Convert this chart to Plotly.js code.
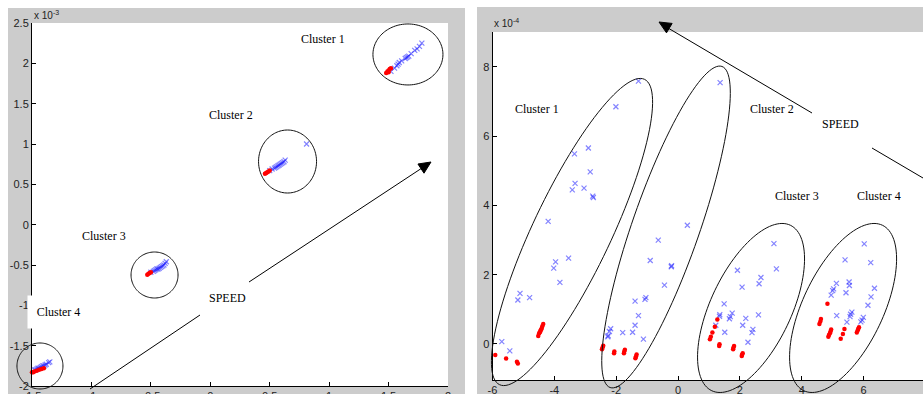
<!DOCTYPE html>
<html><head><meta charset="utf-8">
<script src="https://cdn.plot.ly/plotly-3.0.1.min.js"></script>
<style>html,body{margin:0;padding:0;background:#fff}#chart{width:923px;height:394px}</style>
</head><body><div id="chart"></div>
<script>
// ---------- tick labels ----------
const leftXTicks = [-1.5,-1,-0.5,0,0.5,1,1.5,2];
const leftXTickText = ['-1.5','-1','-0.5','0','0.5','1','1.5','2'];
const leftYTicks = [-2,-1.5,-1,-0.5,0,0.5,1,1.5,2,2.5];
const leftYTickText = ['-2','-1.5','-1','-0.5','0','0.5','1','1.5','2','2.5'];
const rightXTicks = [-6,-4,-2,0,2,4,6];
const rightXTickText = ['-6','-4','-2','0','2','4','6'];
const rightYTicks = [0,2,4,6,8];
const rightYTickText = ['0','2','4','6','8'];

// ---------- left panel data (x 10^-3) ----------
const leftC1BlueX = [1.52,1.55,1.57,1.58,1.59,1.61,1.64,1.65,1.66,1.67,1.69,1.72,1.74,1.76,1.78];
const leftC1BlueY = [1.90,1.94,1.97,1.99,2.01,2.03,2.06,2.07,2.08,2.09,2.12,2.16,2.18,2.21,2.25];
const leftC1RedX = [1.48,1.49,1.50,1.51,1.52,1.50];
const leftC1RedY = [1.88,1.90,1.91,1.93,1.94,1.89];
const leftC2BlueX = [0.50,0.52,0.54,0.55,0.56,0.57,0.58,0.59,0.60,0.61,0.62,0.63,0.81];
const leftC2BlueY = [0.67,0.69,0.70,0.71,0.72,0.73,0.74,0.75,0.76,0.77,0.78,0.80,1.00];
const leftC2RedX = [0.46,0.47,0.48,0.49,0.50];
const leftC2RedY = [0.63,0.64,0.65,0.66,0.67];
const leftC3BlueX = [-0.50,-0.48,-0.47,-0.46,-0.45,-0.44,-0.43,-0.42,-0.41,-0.40,-0.39,-0.38,-0.37];
const leftC3BlueY = [-0.59,-0.58,-0.57,-0.56,-0.55,-0.55,-0.54,-0.53,-0.52,-0.51,-0.50,-0.48,-0.46];
const leftC3RedX = [-0.53,-0.52,-0.51,-0.50];
const leftC3RedY = [-0.62,-0.61,-0.60,-0.59];
const leftC4BlueX = [-1.48,-1.47,-1.46,-1.45,-1.44,-1.43,-1.42,-1.41,-1.40,-1.39,-1.38,-1.36,-1.35];
const leftC4BlueY = [-1.80,-1.80,-1.79,-1.78,-1.78,-1.77,-1.76,-1.75,-1.75,-1.74,-1.73,-1.71,-1.70];
const leftC4RedX = [-1.50,-1.49,-1.48,-1.46,-1.44,-1.42,-1.40];
const leftC4RedY = [-1.83,-1.83,-1.82,-1.81,-1.80,-1.79,-1.78];

// ---------- right panel data (x 10^-4) ----------
const rightC1BlueX = [-2.01,-1.28,-3.35,-2.90,-2.84,-3.33,-3.42,-3.04,-2.76,-2.74,-4.20,-3.54,-3.96,-4.02,-3.82,-5.11,-5.18,-4.80,-5.70,-5.44];
const rightC1BlueY = [6.85,7.59,5.49,5.66,4.97,4.64,4.45,4.50,4.27,4.23,3.54,2.48,2.37,2.19,1.78,1.46,1.27,1.34,0.07,-0.20];
const rightC1RedX = [-5.91,-5.56,-5.21,-5.18,-4.36,-4.39,-4.41,-4.43,-4.45,-4.47,-4.49,-4.52];
const rightC1RedY = [-0.32,-0.42,-0.51,-0.56,0.58,0.51,0.45,0.41,0.38,0.34,0.31,0.23];
const rightC2BlueX = [1.36,0.30,-0.64,-0.90,-0.22,-0.21,-0.44,-1.04,-1.07,-1.39,-1.28,-1.39,-1.79,-1.47,-1.12,-2.18,-2.22,-2.27,-2.26];
const rightC2BlueY = [7.55,3.43,3.00,2.41,2.23,2.26,1.70,1.34,1.29,1.24,0.82,0.54,0.33,0.34,0.14,0.44,0.36,0.21,0.24];
const rightC2RedX = [-2.42,-2.44,-2.46,-2.06,-2.07,-1.72,-1.74,-1.75,-1.34,-1.36,-1.38];
const rightC2RedY = [-0.05,-0.10,-0.15,-0.22,-0.27,-0.17,-0.22,-0.27,-0.30,-0.36,-0.41];
const rightC3BlueX = [3.10,3.18,1.92,2.68,2.62,2.07,1.49,1.35,1.75,1.69,1.66,2.19,2.60,2.09,1.22,2.42,2.39,1.51,2.26,1.34];
const rightC3BlueY = [2.90,2.17,2.13,1.92,1.74,1.64,1.16,0.85,0.89,0.79,0.73,0.74,0.84,0.54,0.54,0.42,0.33,0.34,0.05,0.80];
const rightC3RedX = [1.27,1.19,1.11,1.06,1.03,1.34,1.33,1.81,1.79,1.78,2.09,2.07,2.06];
const rightC3RedY = [0.71,0.50,0.33,0.21,0.14,-0.01,-0.06,-0.06,-0.11,-0.15,-0.27,-0.31,-0.35];
const rightC4BlueX = [6.02,5.40,6.23,5.12,5.53,5.54,5.03,5.00,5.43,4.95,6.35,6.24,6.14,5.13,5.62,5.58,5.56,5.99,5.95,5.46,5.91];
const rightC4BlueY = [2.89,2.43,2.35,1.75,1.79,1.69,1.59,1.54,1.48,1.41,1.61,1.36,1.12,0.82,0.92,0.86,0.79,0.77,0.69,0.63,0.64];
const rightC4RedX = [4.83,4.62,4.60,4.57,4.95,4.93,4.91,4.88,4.86,5.38,5.33,5.26,5.85,5.83,5.81,5.78];
const rightC4RedY = [1.16,0.72,0.65,0.58,0.42,0.36,0.31,0.26,0.21,0.43,0.29,0.15,0.48,0.44,0.40,0.33];

// ---------- figure ----------
const W = 923, H = 394;
const tickFont = {family:'Liberation Sans Narrow, Liberation Sans, Arial, sans-serif', size:11, color:'#222'};
const axCommon = {showline:true, linecolor:'#000', linewidth:1, ticks:'inside', ticklen:4, tickwidth:1,
  tickcolor:'#000', showgrid:false, zeroline:false, fixedrange:true, mirror:false, tickfont:tickFont, layer:'above traces'};

const layout = {
  width:W, height:H, margin:{l:0,r:0,t:0,b:0,pad:0},
  paper_bgcolor:'#ffffff', plot_bgcolor:'rgba(0,0,0,0)', showlegend:false,
  xaxis: Object.assign({}, axCommon, {domain:[32/W, 448/W], range:[-1.5, 2], anchor:'y', tickvals:leftXTicks, ticktext:leftXTickText}),
  yaxis: Object.assign({}, axCommon, {domain:[1-386/H, 1-23/H], range:[-2, 2.5], anchor:'x', tickvals:leftYTicks, ticktext:leftYTickText}),
  xaxis2: Object.assign({}, axCommon, {domain:[492.5/W, 1], range:[-6, 7.92], anchor:'y2', tickvals:rightXTicks, ticktext:rightXTickText}),
  yaxis2: Object.assign({}, axCommon, {domain:[1-380/H, 1-32/H], range:[-1.04, 9.01], anchor:'x2', tickvals:rightYTicks, ticktext:rightYTickText}),
};

// data -> pixel using the axis settings
function toPx(xa, ya, x, y) {
  const X = layout[xa], Y = layout[ya];
  const fx = X.domain[0] + (x - X.range[0])/(X.range[1]-X.range[0])*(X.domain[1]-X.domain[0]);
  const fy = Y.domain[0] + (y - Y.range[0])/(Y.range[1]-Y.range[0])*(Y.domain[1]-Y.domain[0]);
  return [fx*W, (1-fy)*H];
}
const PX = (px) => px/W, PY = (py) => 1 - py/H;

function ellipsePath(cx, cy, a, b, deg) {
  const th = deg*Math.PI/180; let s = '';
  for (let i = 0; i <= 120; i++) {
    const t = 2*Math.PI*i/120;
    const dx = a*Math.cos(t)*Math.cos(th) - b*Math.sin(t)*Math.sin(th);
    const dy = a*Math.cos(t)*Math.sin(th) + b*Math.sin(t)*Math.cos(th);
    s += (i ? 'L' : 'M') + PX(cx+dx).toFixed(5) + ',' + PY(cy-dy).toFixed(5);
  }
  return s + 'Z';
}

const shapes = [];
// grey figure panels
shapes.push({type:'rect', xref:'paper', yref:'paper', x0:PX(8), x1:PX(465), y0:0, y1:PY(8), fillcolor:'#cccccc', line:{width:0}, layer:'below'});
shapes.push({type:'rect', xref:'paper', yref:'paper', x0:PX(477), x1:1, y0:0, y1:PY(7), fillcolor:'#cccccc', line:{width:0}, layer:'below'});
// white axes areas
[['xaxis','yaxis'],['xaxis2','yaxis2']].forEach(([a,b]) => {
  shapes.push({type:'rect', xref:'paper', yref:'paper', x0:layout[a].domain[0], x1:layout[a].domain[1],
    y0:layout[b].domain[0], y1:layout[b].domain[1], fillcolor:'#ffffff', line:{width:0}, layer:'below'});
});

// cluster ellipses (center in data units, semi-axes in px, tilt in degrees)
const ellipses = [
  ['xaxis','yaxis', 1.663, 2.110, 35, 30.5, 0],
  ['xaxis','yaxis', 0.650, 0.783, 29, 31.5, 0],
  ['xaxis','yaxis', -0.469, -0.624, 23.5, 23, 0],
  ['xaxis','yaxis', -1.433, -1.752, 23, 23, 0],
  ['xaxis2','yaxis2', -3.429, 3.234, 169, 39, 64.6],
  ['xaxis2','yaxis2', -0.389, 3.379, 170, 33.6, 70.8],
  ['xaxis2','yaxis2', 2.360, 1.040, 91.6, 40.2, 64.6],
  ['xaxis2','yaxis2', 5.336, 1.040, 91.6, 40.2, 64.6],
];
ellipses.forEach(([xa,ya,cx,cy,a,b,d]) => {
  const [px,py] = toPx(xa,ya,cx,cy);
  shapes.push({type:'path', xref:'paper', yref:'paper', path:ellipsePath(px,py,a,b,d), line:{color:'#111', width:1}, fillcolor:'rgba(0,0,0,0)'});
});

// SPEED arrows (pixel positions)
function seg(x0,y0,x1,y1) {
  shapes.push({type:'line', xref:'paper', yref:'paper', x0:PX(x0), y0:PY(y0), x1:PX(x1), y1:PY(y1), line:{color:'#000', width:1}});
}
function head(tx,ty,fx,fy) {
  const dx = tx-fx, dy = ty-fy, L = Math.hypot(dx,dy), ux = dx/L, uy = dy/L;
  const len = 12, w = 5.5, bx = tx-ux*len, by = ty-uy*len;
  const p = [[tx,ty],[bx-uy*w, by+ux*w],[bx+uy*w, by-ux*w]];
  shapes.push({type:'path', xref:'paper', yref:'paper',
    path:'M'+p.map(q=>PX(q[0]).toFixed(5)+','+PY(q[1]).toFixed(5)).join('L')+'Z', fillcolor:'#000', line:{color:'#000', width:1}});
}
seg(90,389,200,315); seg(249,282,422,168); head(431,162,249,282);
seg(812,113,668,28); head(659,22,812,113); seg(872,148,923,178);

// text
const serif = {family:'Liberation Serif, Times New Roman, serif', size:12, color:'#000'};
function label(text, px, py, extra) {
  return Object.assign({text:text, xref:'paper', yref:'paper', x:PX(px), y:PY(py), xanchor:'center', yanchor:'middle', showarrow:false, font:serif}, extra||{});
}
const annotations = [
  label('Cluster 1', 323, 39), label('Cluster 2', 231, 115), label('Cluster 3', 104, 236),
  label('Cluster 4', 58.5, 312, {width:59, height:30, bgcolor:'#ffffff', borderpad:1}),
  label('SPEED', 227, 298),
  label('Cluster 1', 536.5, 109), label('Cluster 2', 772, 109), label('SPEED', 840, 124),
  label('Cluster 3', 796.5, 196), label('Cluster 4', 878.5, 196),
  label('x 10<sup>-3</sup>', 32, 15, {xanchor:'left', font:{family:tickFont.family, size:10, color:'#222'}}),
  label('x 10<sup>-4</sup>', 492, 23, {xanchor:'left', font:{family:tickFont.family, size:10, color:'#222'}}),
];
layout.shapes = shapes;
layout.annotations = annotations;

// traces
function blue(x, y, xa, ya, size) {
  return {type:'scatter', mode:'markers', x:x, y:y, xaxis:xa, yaxis:ya, cliponaxis:false, hoverinfo:'skip',
    marker:{symbol:'x-thin-open', size:size, color:'rgba(30,30,255,0.55)', line:{width:1.2}}};
}
function red(x, y, xa, ya, size) {
  return {type:'scatter', mode:'markers', x:x, y:y, xaxis:xa, yaxis:ya, cliponaxis:false, hoverinfo:'skip',
    marker:{symbol:'circle', size:size, color:'#ff0000', line:{width:0}}};
}
const data = [
  blue(leftC1BlueX,leftC1BlueY,'x','y',5), red(leftC1RedX,leftC1RedY,'x','y',4.5),
  blue(leftC2BlueX,leftC2BlueY,'x','y',5), red(leftC2RedX,leftC2RedY,'x','y',4.5),
  blue(leftC3BlueX,leftC3BlueY,'x','y',5), red(leftC3RedX,leftC3RedY,'x','y',4.5),
  blue(leftC4BlueX,leftC4BlueY,'x','y',5), red(leftC4RedX,leftC4RedY,'x','y',4.5),
  blue(rightC1BlueX,rightC1BlueY,'x2','y2',5), red(rightC1RedX,rightC1RedY,'x2','y2',4.5),
  blue(rightC2BlueX,rightC2BlueY,'x2','y2',5), red(rightC2RedX,rightC2RedY,'x2','y2',4.5),
  blue(rightC3BlueX,rightC3BlueY,'x2','y2',5), red(rightC3RedX,rightC3RedY,'x2','y2',4.5),
  blue(rightC4BlueX,rightC4BlueY,'x2','y2',5), red(rightC4RedX,rightC4RedY,'x2','y2',4.5),
];

Plotly.newPlot('chart', data, layout, {staticPlot:true, displayModeBar:false});
</script>
</body></html>
